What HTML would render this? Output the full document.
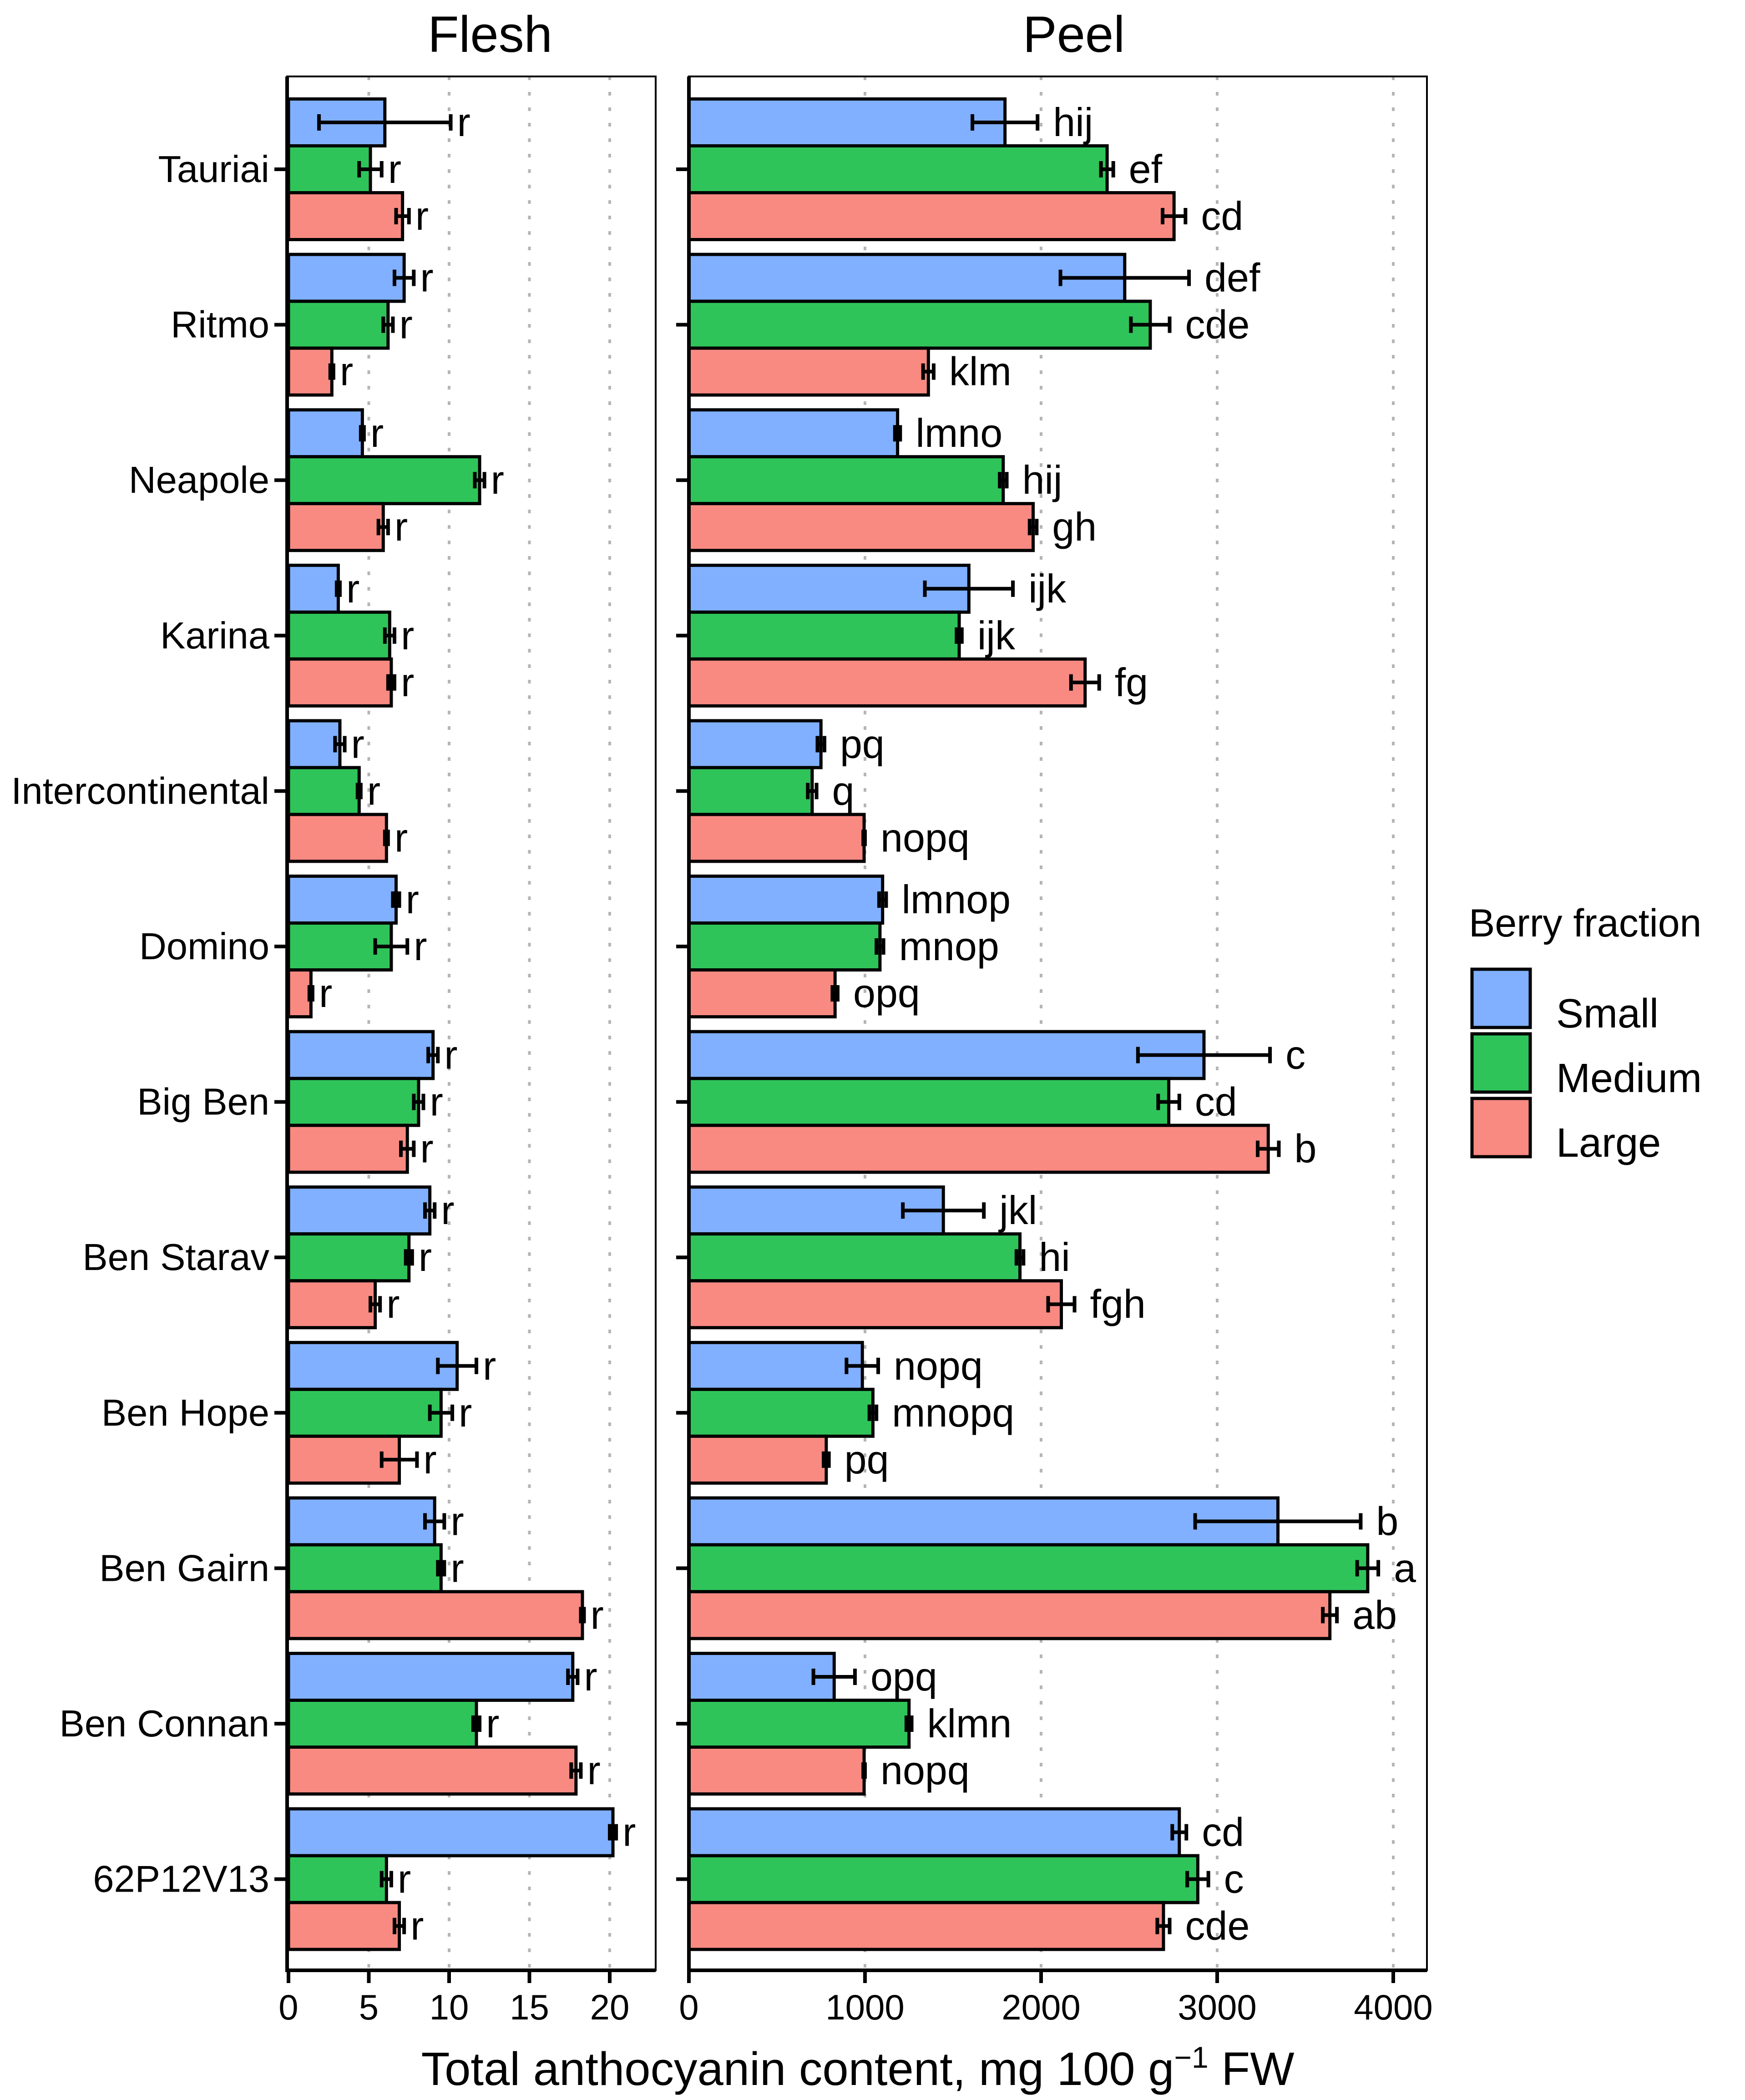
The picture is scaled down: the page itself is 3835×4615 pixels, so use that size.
<!DOCTYPE html>
<html><head><meta charset="utf-8"><style>
html,body{margin:0;padding:0;background:#fff}
svg{display:block;font-family:"Liberation Sans",Arial,sans-serif}
</style></head><body>
<svg id="chart" width="3835" height="4615" viewBox="0 0 3835 4615" xmlns="http://www.w3.org/2000/svg">
<g id="grid"></g><g id="bars"></g><g id="axes"></g>
<text x="1077" y="114" font-size="112" text-anchor="middle">Flesh</text>
<text x="2360" y="114" font-size="112" text-anchor="middle">Peel</text>
<text x="1885" y="4582" font-size="103" text-anchor="middle">Total anthocyanin content, mg 100 g<tspan dy="-38" font-size="66">−1</tspan><tspan dy="38"> FW</tspan></text>
<g>
<text x="3228" y="2058" font-size="86">Berry fraction</text>
<rect x="3235" y="2130" width="128" height="128" fill="#80B0FF" stroke="#000" stroke-width="7"/>
<rect x="3235" y="2272" width="128" height="128" fill="#2FC45A" stroke="#000" stroke-width="7"/>
<rect x="3235" y="2414" width="128" height="128" fill="#F88A82" stroke="#000" stroke-width="7"/>
<text x="3420" y="2258" font-size="90">Small</text>
<text x="3420" y="2400" font-size="90">Medium</text>
<text x="3420" y="2542" font-size="90">Large</text>
</g>
</svg>
<script>
const categories=["Tauriai","Ritmo","Neapole","Karina","Intercontinental","Domino","Big Ben","Ben Starav","Ben Hope","Ben Gairn","Ben Connan","62P12V13"];
const fleshSmall=[6.0,7.2,4.6,3.1,3.2,6.7,9.0,8.8,10.5,9.1,17.7,20.2];
const fleshSmallErr=[4.1,0.6,0.1,0.1,0.3,0.2,0.3,0.3,1.2,0.6,0.3,0.2];
const fleshMedium=[5.1,6.2,11.9,6.3,4.4,6.4,8.1,7.5,9.5,9.5,11.7,6.1];
const fleshMediumErr=[0.7,0.3,0.3,0.3,0.1,1.0,0.3,0.2,0.7,0.2,0.2,0.3];
const fleshLarge=[7.1,2.7,5.9,6.4,6.1,1.4,7.4,5.4,6.9,18.3,17.9,6.9];
const fleshLargeErr=[0.4,0.1,0.3,0.2,0.1,0.1,0.4,0.3,1.1,0.1,0.3,0.3];
const peelSmall=[1795,2475,1185,1590,750,1100,2925,1445,985,3345,825,2785];
const peelSmallErr=[185,365,15,250,20,20,375,230,90,470,118,40];
const peelMedium=[2375,2620,1785,1535,700,1085,2725,1880,1045,3855,1250,2890];
const peelMediumErr=[35,110,20,15,25,20,60,20,20,60,15,60];
const peelLarge=[2755,1360,1955,2250,995,830,3290,2115,780,3640,995,2695];
const peelLargeErr=[65,30,20,80,5,15,60,75,15,40,5,35];
const peelSmallLetters=["hij","def","lmno","ijk","pq","lmnop","c","jkl","nopq","b","opq","cd"];
const peelMediumLetters=["ef","cde","hij","ijk","q","mnop","cd","hi","mnopq","a","klmn","c"];
const peelLargeLetters=["cd","klm","gh","fg","nopq","opq","b","fgh","pq","ab","nopq","cde"];
const fleshTicks=[0,5,10,15,20];
const peelTicks=[0,1000,2000,3000,4000];

const NS="http://www.w3.org/2000/svg";
function mk(tag,attrs,parent){const e=document.createElementNS(NS,tag);for(const k in attrs)e.setAttribute(k,attrs[k]);parent.appendChild(e);return e;}
const gGrid=document.getElementById('grid'),gBars=document.getElementById('bars'),gAxes=document.getElementById('axes');
const plotTop=168,plotBottom=4330;
const yCat=i=>372+i*341.6;
const barH=103;
const panels=[
 {name:'flesh',x0:634,ppu:35.3,left:631,right:1441,ticks:fleshTicks,series:[[fleshSmall,fleshSmallErr,null],[fleshMedium,fleshMediumErr,null],[fleshLarge,fleshLargeErr,null]],gap:14},
 {name:'peel',x0:1514,ppu:0.387,left:1514,right:3136,ticks:peelTicks,series:[[peelSmall,peelSmallErr,peelSmallLetters],[peelMedium,peelMediumErr,peelMediumLetters],[peelLarge,peelLargeErr,peelLargeLetters]],gap:34}
];
const colors=["#80B0FF","#2FC45A","#F88A82"];
const sNames=["small","medium","large"];
panels.forEach(p=>{
 const xs=v=>p.x0+v*p.ppu;
 p.ticks.forEach(t=>{ if(t>0){const l=mk('line',{x1:xs(t),x2:xs(t),y1:plotTop,y2:plotBottom,stroke:'#b5b5b5','stroke-width':6,'stroke-dasharray':'8 26'},gGrid);
 
 }});
 const fr=mk('rect',{x:p.left,y:plotTop,width:p.right-p.left,height:plotBottom-plotTop,fill:'none',stroke:'#000','stroke-width':4},gAxes);
 
 
 const ax=mk('line',{x1:p.left,x2:p.left,y1:plotTop,y2:plotBottom+4,stroke:'#000','stroke-width':8},gAxes);
 
 
 const bx=mk('line',{x1:p.left-4,x2:p.right,y1:plotBottom,y2:plotBottom,stroke:'#000','stroke-width':8},gAxes);
 
 
 p.ticks.forEach(t=>{
  const tk=mk('line',{x1:xs(t),x2:xs(t),y1:plotBottom,y2:plotBottom+28,stroke:'#000','stroke-width':8},gAxes);
  
  
  const tl=mk('text',{x:xs(t),y:plotBottom+108,'font-size':78,'text-anchor':'middle'},gAxes);
  tl.textContent=t;
  
  
 });
 categories.forEach((c,i)=>{
  const yt=mk('line',{x1:p.left-28,x2:p.left,y1:yCat(i),y2:yCat(i),stroke:'#000','stroke-width':8},gAxes);
  
  
  if(p.name==='flesh'){
   const cl=mk('text',{x:592,y:yCat(i)+28,'font-size':83,'text-anchor':'end'},gAxes);
   cl.textContent=c;
   
   
  }
  p.series.forEach((s,k)=>{
   const v=s[0][i],e=s[1][i];
   const yc=yCat(i)+(k-1)*barH;
   const r=mk('rect',{x:xs(0),y:yc-barH/2,width:xs(v)-xs(0),height:barH,fill:colors[k],stroke:'#000','stroke-width':7},gBars);
   
   
   const eg=mk('path',{d:`M${xs(v-e)},${yc}H${xs(v+e)}M${xs(v-e)},${yc-18}V${yc+18}M${xs(v+e)},${yc-18}V${yc+18}`,stroke:'#000','stroke-width':8,fill:'none'},gBars);
   
   
   const lt=mk('text',{x:xs(v+e)+p.gap,y:yc+30,'font-size':88},gBars);
   lt.textContent=s[2]?s[2][i]:'r';
   
   
  });
 });
});
</script>
</body></html>
